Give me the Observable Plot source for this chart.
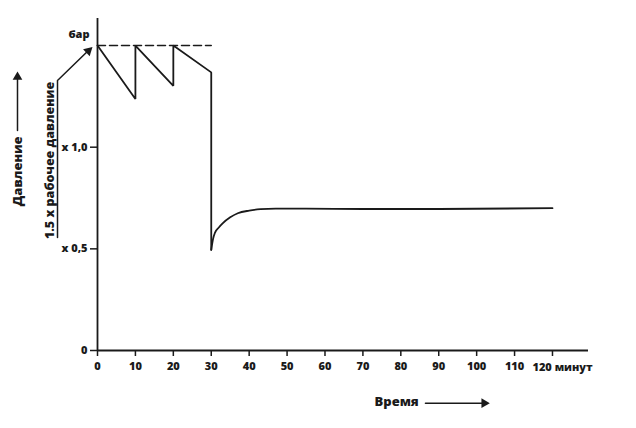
<!DOCTYPE html>
<html>
<head>
<meta charset="utf-8">
<script src="https://cdn.jsdelivr.net/npm/d3@7"></script>
<script src="https://cdn.jsdelivr.net/npm/@observablehq/plot@0.6"></script>
<style>
  html, body { margin: 0; padding: 0; background: #fff; }
  #chart svg { display: block; }
</style>
</head>
<body>
<div id="chart"></div>
<script>
// Sawtooth test phase (minutes, pressure relative to working pressure)
const sawMinutes = [0, 10, 10, 20, 20, 30, 30];
const sawPressure = [1.5, 1.237, 1.5, 1.302, 1.5, 1.368, 0.495];
// Recovery / holding phase
const holdMinutes = [30, 30.5, 31, 32, 33, 35, 37, 40, 43, 47, 55, 70, 90, 120];
const holdPressure = [0.495, 0.55, 0.58, 0.605, 0.625, 0.655, 0.675, 0.688, 0.695, 0.698, 0.698, 0.696, 0.696, 0.7];
// Test pressure reference (dashed)
const refMinutes = [0, 30];
const refPressure = [1.5, 1.5];
// Tick labels
const xTicks = [0, 10, 20, 30, 40, 50, 60, 70, 80, 90, 100, 110, 120];
const yTicks = [0, 0.5, 1.0];
const yTickLabels = ["0", "x 0,5", "x 1,0"];
const unitY = "бар";
const unitX = "120 минут";
const labelY = "Давление";
const labelY2 = "1.5 x рабочее давление";
const labelX = "Время";

const saw = sawMinutes.map((t, i) => ({t, p: sawPressure[i]}));
const hold = holdMinutes.map((t, i) => ({t, p: holdPressure[i]}));
const ref = refMinutes.map((t, i) => ({t, p: refPressure[i]}));

const W = 1.8;
const font = "Open Sans";
const ink = "#1a1a1a";

const chart = Plot.plot({
  width: 636,
  height: 428,
  marginLeft: 97,
  marginRight: 48,
  marginTop: 18,
  marginBottom: 78,
  x: {domain: [0, 129.5]},
  y: {domain: [0, 1.633]},
  style: {fontFamily: font, fontSize: "11px", fontWeight: 800, color: ink, background: "#fff"},
  marks: [
    Plot.axisX({ticks: xTicks, tickSize: 6, tickPadding: 6, strokeWidth: 1.5, fontWeight: 800,
      tickFormat: d => d === 120 ? "" : String(d), label: null}),
    Plot.axisY({ticks: yTicks, tickSize: 7, tickPadding: 3, strokeWidth: 1.5, fontWeight: 800,
      tickFormat: d => yTickLabels[yTicks.indexOf(d)], label: null}),
    Plot.ruleY([0], {strokeWidth: W, stroke: ink}),
    Plot.ruleX([0], {strokeWidth: W, stroke: ink}),
    Plot.text([{t: 120, p: 0}], {x: "t", y: "p", text: () => unitX, textAnchor: "start", dx: -20, dy: 16.5,
      fontWeight: 800, fontSize: 11, fill: ink}),
    Plot.text([{t: 0, p: 1.5}], {x: "t", y: "p", text: () => unitY, textAnchor: "end", dx: -8, dy: -11,
      fontWeight: 800, fontSize: 11, fill: ink}),
    Plot.line(ref, {x: "t", y: "p", stroke: ink, strokeWidth: 1.5, strokeDasharray: "8,4"}),
    Plot.line(saw, {x: "t", y: "p", stroke: ink, strokeWidth: W, strokeLinejoin: "miter"}),
    Plot.line(hold, {x: "t", y: "p", stroke: ink, strokeWidth: W, curve: "monotone-x"}),
    // Left label "Давление" with arrow
    Plot.text([{t: -21.1, p: 0.881}], {x: "t", y: "p", text: () => labelY, rotate: -90,
      fontWeight: 800, fontSize: 13, fill: ink}),
    Plot.line([{t: -21.1, p: 1.082}, {t: -21.1, p: 1.34}], {x: "t", y: "p", stroke: ink, strokeWidth: 1.5}),
    Plot.dot([{t: -21.1, p: 1.345}], {x: "t", y: "p", symbol: "triangle", r: 3.6, fill: ink, stroke: "none"}),
    // Second label, underlined, with diagonal arrow to test pressure
    Plot.text([{t: -12.6, p: 0.935}], {x: "t", y: "p", text: () => labelY2, rotate: -90,
      fontWeight: 800, fontSize: 12.5, fill: ink}),
    Plot.line([{t: -10.55, p: 0.556}, {t: -10.55, p: 1.328}, {t: -2.6, p: 1.472}], {x: "t", y: "p", stroke: ink, strokeWidth: 1.5}),
    Plot.dot([{t: -2.4, p: 1.474}], {x: "t", y: "p", symbol: "triangle", r: 3.6, rotate: 47, fill: ink, stroke: "none"}),
    // Bottom label "Время" with arrow
    Plot.text([{t: 78.9, p: -0.251}], {x: "t", y: "p", text: () => labelX,
      fontWeight: 800, fontSize: 13, fill: ink}),
    Plot.line([{t: 86.5, p: -0.259}, {t: 101.5, p: -0.259}], {x: "t", y: "p", stroke: ink, strokeWidth: 1.5}),
    Plot.dot([{t: 102.0, p: -0.259}], {x: "t", y: "p", symbol: "triangle", r: 3.6, rotate: 90, fill: ink, stroke: "none"})
  ]
});
document.getElementById("chart").appendChild(chart);
</script>
</body>
</html>
